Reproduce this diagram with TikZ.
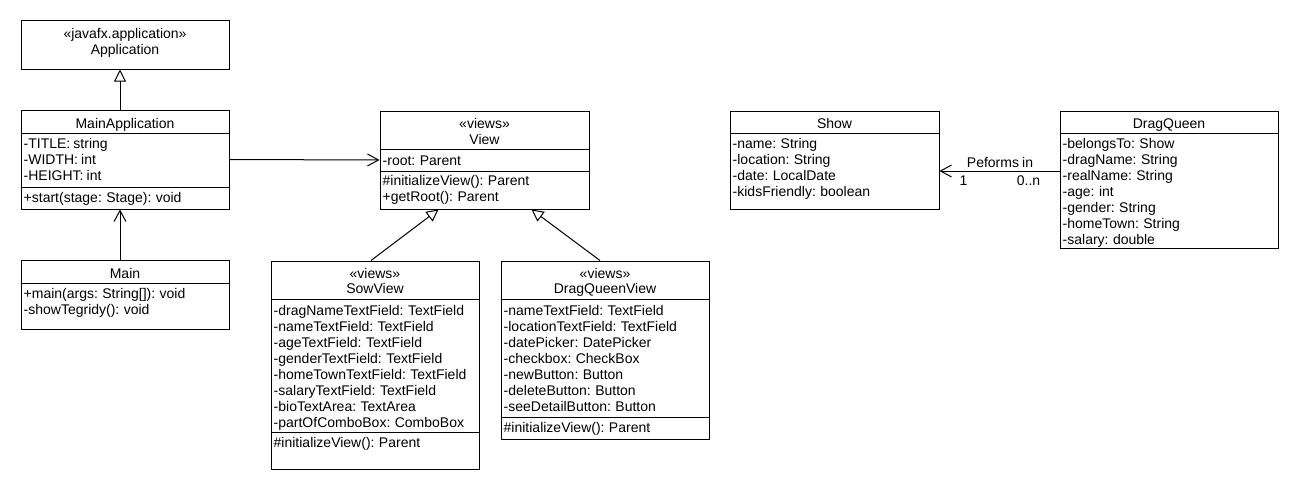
\documentclass[tikz,border=0pt]{standalone}
\usepackage{fontspec}
\setmainfont{Liberation Sans}[WordSpace=0.8]
\usetikzlibrary{arrows.meta}
\begin{document}
\begin{tikzpicture}[x=1pt,y=-1pt,
  box/.style={draw, line width=1pt, inner sep=0pt},
  lt/.style={anchor=base west, inner sep=0pt, font=\fontsize{14}{16}\selectfont},
  ct/.style={anchor=base, inner sep=0pt, font=\fontsize{14}{16}\selectfont},
  sepline/.style={line width=1pt},
  gen/.style={line width=1pt, -{Triangle[open, length=12pt, width=12pt, line width=1pt]}},
  nav/.style={line width=1pt, -{Straight Barb[length=11pt, width=12pt, line width=1pt]}}]
\useasboundingbox (0,0) rectangle (1290,490);

% ---------- Application ----------
\node[box, minimum width=208pt, minimum height=49pt] (app) at (125,44.5) {};
\node[ct] (app-st) at (125,38.5) {«javafx.application»};
\node[ct] (app-n) at (125,54) {Application};

% ---------- MainApplication ----------
\node[box, minimum width=208pt, minimum height=99pt] (mainapp) at (125,159.5) {};
\node[ct] (mainapp-n) at (125,128.5) {MainApplication};
\draw[sepline] (mainapp.west |- 0,133) -- (mainapp.east |- 0,133);
\node[lt] (mainapp-a1) at (23.5,148.5) {-TITLE: string};
\node[lt] (mainapp-a2) at (23.5,164.5) {-WIDTH: int};
\node[lt] (mainapp-a3) at (23.5,180.5) {-HEIGHT: int};
\draw[sepline] (mainapp.west |- 0,187) -- (mainapp.east |- 0,187);
\node[lt] (mainapp-o1) at (23.5,202) {+start(stage: Stage): void};

% ---------- Main ----------
\node[box, minimum width=208pt, minimum height=69pt] (main) at (125,294.5) {};
\node[ct] (main-n) at (125,278.5) {Main};
\draw[sepline] (main.west |- 0,283.5) -- (main.east |- 0,283.5);
\node[lt] (main-o1) at (23.5,298.5) {+main(args: String[]): void};
\node[lt] (main-o2) at (23.5,314.5) {-showTegridy(): void};

% ---------- View ----------
\node[box, minimum width=209pt, minimum height=98pt] (view) at (484.5,160) {};
\node[ct] (view-st) at (484.5,128.5) {«views»};
\node[ct] (view-n) at (484.5,144) {View};
\draw[sepline] (view.west |- 0,149.5) -- (view.east |- 0,149.5);
\node[lt] (view-a1) at (382.5,165) {-root: Parent};
\draw[sepline] (view.west |- 0,171) -- (view.east |- 0,171);
\node[lt] (view-o1) at (382.5,185.5) {\#initializeView(): Parent};
\node[lt] (view-o2) at (382.5,201.5) {+getRoot(): Parent};

% ---------- SowView ----------
\node[box, minimum width=208pt, minimum height=208pt] (sow) at (375,365) {};
\node[ct] (sow-st) at (375,278) {«views»};
\node[ct] (sow-n) at (375,293.5) {SowView};
\draw[sepline] (sow.west |- 0,299.5) -- (sow.east |- 0,299.5);
\node[lt] (sow-a1) at (273.5,315) {-dragNameTextField: TextField};
\node[lt] (sow-a2) at (273.5,331) {-nameTextField: TextField};
\node[lt] (sow-a3) at (273.5,347) {-ageTextField: TextField};
\node[lt] (sow-a4) at (273.5,363) {-genderTextField: TextField};
\node[lt] (sow-a5) at (273.5,379) {-homeTownTextField: TextField};
\node[lt] (sow-a6) at (273.5,395) {-salaryTextField: TextField};
\node[lt] (sow-a7) at (273.5,411) {-bioTextArea: TextArea};
\node[lt] (sow-a8) at (273.5,427) {-partOfComboBox: ComboBox};
\draw[sepline] (sow.west |- 0,432.5) -- (sow.east |- 0,432.5);
\node[lt] (sow-o1) at (273.5,447.5) {\#initializeView(): Parent};

% ---------- DragQueenView ----------
\node[box, minimum width=208pt, minimum height=178pt] (dqv) at (605,350) {};
\node[ct] (dqv-st) at (605,278) {«views»};
\node[ct] (dqv-n) at (605,293.5) {DragQueenView};
\draw[sepline] (dqv.west |- 0,299.5) -- (dqv.east |- 0,299.5);
\node[lt] (dqv-a1) at (503.5,315) {-nameTextField: TextField};
\node[lt] (dqv-a2) at (503.5,331) {-locationTextField: TextField};
\node[lt] (dqv-a3) at (503.5,347) {-datePicker: DatePicker};
\node[lt] (dqv-a4) at (503.5,363) {-checkbox: CheckBox};
\node[lt] (dqv-a5) at (503.5,379) {-newButton: Button};
\node[lt] (dqv-a6) at (503.5,395) {-deleteButton: Button};
\node[lt] (dqv-a7) at (503.5,411) {-seeDetailButton: Button};
\draw[sepline] (dqv.west |- 0,417) -- (dqv.east |- 0,417);
\node[lt] (dqv-o1) at (503.5,432.5) {\#initializeView(): Parent};

% ---------- Show ----------
\node[box, minimum width=209pt, minimum height=98pt] (show) at (834.5,160) {};
\node[ct] (show-n) at (834.5,128.5) {Show};
\draw[sepline] (show.west |- 0,133.5) -- (show.east |- 0,133.5);
\node[lt] (show-a1) at (732.5,148.5) {-name: String};
\node[lt] (show-a2) at (732.5,164.5) {-location: String};
\node[lt] (show-a3) at (732.5,180.5) {-date: LocalDate};
\node[lt] (show-a4) at (732.5,196.5) {-kidsFriendly: boolean};

% ---------- DragQueen ----------
\node[box, minimum width=218pt, minimum height=137pt] (dq) at (1169,179.5) {};
\node[ct] (dq-n) at (1169,128.5) {DragQueen};
\draw[sepline] (dq.west |- 0,133.5) -- (dq.east |- 0,133.5);
\node[lt] (dq-a1) at (1062.5,148.5) {-belongsTo: Show};
\node[lt] (dq-a2) at (1062.5,164.5) {-dragName: String};
\node[lt] (dq-a3) at (1062.5,180.5) {-realName: String};
\node[lt] (dq-a4) at (1062.5,196.5) {-age: int};
\node[lt] (dq-a5) at (1062.5,212.5) {-gender: String};
\node[lt] (dq-a6) at (1062.5,228.5) {-homeTown: String};
\node[lt] (dq-a7) at (1062.5,244.5) {-salary: double};

% ---------- connectors ----------
\draw[gen] ([xshift=-5pt]mainapp.north) -- ([xshift=-5pt]app.south);
\draw[nav] ([xshift=-5pt]main.north) -- ([xshift=-5pt]mainapp.south);
\draw[nav] (mainapp.east) -- (view.west);
\draw[gen] ([xshift=-4pt]sow.north) -- ([xshift=-46pt]view.south);
\draw[gen] ([xshift=-5pt]dqv.north) -- ([xshift=47pt]view.south);
\draw[nav] ([yshift=8.5pt]dq.west) -- (show.east |- 0,171) coordinate (assoc-end);
\node[ct] (assoc-name) at (1000,167) {Peforms in};
\node[ct] (assoc-m1) at (963.5,185) {1};
\node[ct] (assoc-m2) at (1028.5,185) {0..n};
\end{tikzpicture}
\end{document}
